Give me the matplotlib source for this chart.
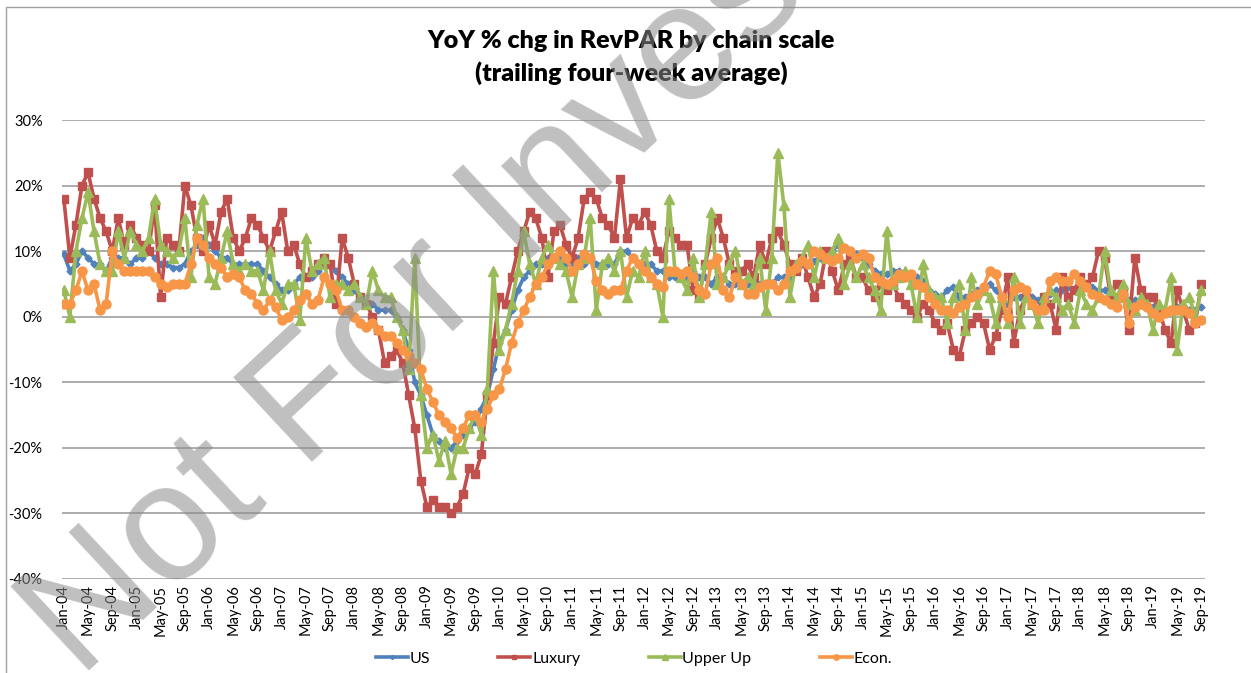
import matplotlib
matplotlib.use("Agg")
import matplotlib.pyplot as plt
from matplotlib.patches import Rectangle

# ---------------- data (monthly readings, Jan-04 .. Sep-19) ----------------
us = [
    9.5, 7, 8, 10, 9, 8, 8, 7, 9, 9, 9, 8,            # 2004
    9, 9, 10, 9, 8, 8, 7.5, 7.5, 8, 10, 11, 12,       # 2005
    11, 10, 9, 9, 8, 8, 8, 8, 8, 7, 6, 5,             # 2006
    4, 4, 5, 6, 6, 6, 7, 8, 8, 7, 6, 5,               # 2007
    4, 3, 2, 2, 1, 1, 1, 0, -2, -5, -10, -12,         # 2008
    -15, -18, -19, -20, -20, -19, -18, -17, -16, -14, -12, -8,  # 2009
    -4, -2, 1, 4, 6, 7, 8, 8, 9, 9, 9, 8,             # 2010
    8, 9, 8, 9, 8, 8, 8, 8, 10, 10, 9, 8,             # 2011
    8, 8, 7, 7, 6, 6, 6, 6, 7, 6, 6, 5,               # 2012
    6, 6, 5, 5, 5, 5, 5, 5, 5, 5, 6, 6,               # 2013
    6, 7, 8, 8, 8.5, 9, 9.5, 10, 11, 10.5, 10, 9.5,   # 2014
    9, 8, 7, 6.5, 6.5, 7, 7, 6.5, 6.5, 6, 5.5, 4,     # 2015
    3.5, 3, 4, 4.5, 3, 3, 3.5, 4, 4.5, 5, 4, 3,       # 2016
    2, 3, 3, 3.5, 3, 2.5, 2.5, 3.5, 4, 4, 4.5, 4,     # 2017
    4.5, 5, 4.5, 4, 4, 3.5, 3, 3, 2.5, 2.5, 2.5, 2,   # 2018
    1.5, 1.5, 1, 1, 1.5, 1.5, 1, 1, 1.5,              # 2019
]
luxury = [
    18, 9, 14, 20, 22, 18, 15, 13, 10, 15, 11, 14,    # 2004
    12, 11, 10, 17, 3, 12, 11, 10, 20, 17, 12, 10,    # 2005
    14, 11, 16, 18, 12, 10, 12, 15, 14, 12, 10, 13,   # 2006
    16, 10, 11, 8, 6, 7, 8, 9, 8, 2, 12, 9,           # 2007
    5, 3, 2, 0, -2, -7, -6, -5, -7, -12, -17, -25,    # 2008
    -29, -28, -29, -29, -30, -29, -27, -23, -24, -21, -12, -4,  # 2009
    3, 2, 6, 10, 13, 16, 15, 12, 6, 13, 14, 11,       # 2010
    9, 12, 18, 19, 18, 15, 14, 12, 21, 12, 15, 14,    # 2011
    16, 14, 10, 9, 13, 12, 11, 11, 4, 3, 8, 12,       # 2012
    15, 12, 8, 7, 7, 8, 6, 11, 8, 12, 13, 11,         # 2013
    8, 7, 9, 6, 3, 5, 10, 7, 4, 8, 9, 6,              # 2014
    6, 4, 3, 5, 4, 5, 3, 2, 1, 0, 2, 1,               # 2015
    -1, -2, -1, -5, -6, -2, -1, 0, -1, -5, -3, 1,     # 2016
    6, -4, 1, 3, 2, 1, 3, 2, -2, 6, 3, 4,             # 2017
    6, 5, 6, 10, 9, 3, 5, 4, -2, 9, 4, 3,             # 2018
    3, 1, -2, -4, 4, 1, -2, -1, 5,                    # 2019
]
upper_up = [
    4, 0, 10, 15, 19, 13, 8, 7, 7, 13, 9, 13,         # 2004
    11, 10, 12, 18, 11, 10, 9, 10, 15, 6, 14, 18,     # 2005
    6, 5, 9, 13, 8, 7, 8, 7, 7, 4, 10, 4,             # 2006
    2, 5, 5, -0.5, 12, 7, 8, 9, 3, 5, 5, 4,           # 2007
    5, 3, 2, 7, 4, 3, 3, 0, -2, -8, 9, -12,           # 2008
    -20, -18, -22, -19, -24, -20, -20, -17, -15, -18, -11, 7,   # 2009
    -5, -2, 2, 7, 13, 8, 5, 9, 11, 9, 8, 7,           # 2010
    3, 8, 9, 15, 1, 8, 9, 7, 10, 3, 7, 6,             # 2011
    10, 6, 5, 0, 18, 7, 6, 4, 9, 3, 8, 16,            # 2012
    5, 6, 8, 10, 5, 6, 5, 9, 1, 9, 25, 17,            # 2013
    3, 8, 9, 11, 6, 10, 9, 10, 12, 5, 8, 6,           # 2014
    8, 6, 4, 1, 13, 5, 6, 7, 5, 0, 8, 4,              # 2015
    3, 3, -1, 3, 5, -2, 6, 2, 4, 3, -1, 3,            # 2016
    -1, 6, -1, 3, 2, -1, 3, 4, 3, 1, 2, -1,           # 2017
    4, 2, 1, 3, 10, 4, 3, 5, 2, 1, 3, 2,              # 2018
    -2, 2, 1, 6, -5, 2, 3, 0, 4,                      # 2019
]
econ = [
    2, 2, 4, 7, 4, 5, 1, 2, 10, 8, 7, 7,              # 2004
    7, 7, 7, 6, 5, 4.5, 5, 5, 5, 8, 12, 11,           # 2005
    9, 8, 7.5, 6, 6.5, 6, 4, 3.5, 2, 1, 2.5, 1.5,     # 2006
    -0.5, 0, 1, 2.5, 3.5, 2, 2.5, 6, 5, 4, 1, 1,      # 2007
    0, -1, -1.5, -1, -2, -3, -3, -4, -5, -6, -7, -8,  # 2008
    -11, -13, -15, -16, -17, -18.5, -17, -15, -15, -16, -14, -12,  # 2009
    -11, -8, -4, -1, 1, 3, 5, 6, 8, 9, 10, 9,         # 2010
    7, 8, 9.5, 9, 5.5, 4, 3.5, 4, 4, 7, 9, 8,         # 2011
    7, 6, 5, 4.5, 7, 7, 6.5, 7, 6, 4, 3.5, 8,         # 2012
    9, 4, 3, 6, 5, 3.5, 3.5, 4.5, 5, 5, 4, 5,         # 2013
    7, 7.5, 8.5, 8, 10, 9.5, 9, 8.5, 9, 10.5, 10, 9,  # 2014
    9.5, 9, 6, 5.5, 5, 5.5, 6.5, 6, 6.5, 5, 4.5, 3,   # 2015
    2, 1, 1, 0.5, 1.5, 2, 3, 3.5, 4.5, 7, 6.5, 3,     # 2016
    0, 4, 4.5, 4, 2, 1, 1, 5.5, 6, 5.5, 5.5, 6.5,     # 2017
    5.5, 4.5, 3.5, 3, 2.5, 2, 1.5, 3.5, -1, 1.5, 2, 1.5,  # 2018
    0.5, 0, 0.5, 1, 1, 1, 0.5, -1, -0.5,              # 2019
]
series_names = ["US", "Luxury", "Upper Up", "Econ."]
month_abbr = ["Jan", "May", "Sep"]
years = list(range(2004, 2020))
y_ticks = [-40, -30, -20, -10, 0, 10, 20, 30]

# ---------------- figure ----------------
plt.rcParams['font.family'] = ['Lato', 'DejaVu Sans']
fig = plt.figure(figsize=(12.51, 6.73), dpi=100)
W, H = 1251, 673
ax = fig.add_axes([62 / W, 1 - 579 / H, (1205 - 62) / W, (579 - 120) / H])

colors = ["#4F81BD", "#C0504D", "#9BBB59", "#F79646"]
markers = ["D", "s", "^", "o"]
msizes = [3.5, 6.0, 6.5, 6.5]
data = [us, luxury, upper_up, econ]
for name, vals, c, m, ms in zip(series_names, data, colors, markers, msizes):
    x = list(range(len(vals)))
    ax.plot(x, vals, color=c, lw=2.6, marker=m, ms=ms, mec=c, mfc=c,
            label=name)

ax.set_ylim(-40, 30)
ax.set_xlim(-0.3, 188.6)
ax.set_yticks(y_ticks)
ax.set_yticklabels([f"{v}%" for v in y_ticks], fontsize=10.5)

labels, pos = [], []
i = 0
for yr in years:
    for mo in month_abbr:
        if i <= 188:
            labels.append(f"{mo}-{str(yr)[2:]}")
            pos.append(i)
        i += 4
ax.set_xticks(pos)
ax.set_xticklabels(labels, rotation=90, fontsize=10.5)
ax.tick_params(axis="both", length=0, pad=4)
ax.tick_params(axis="y", pad=14)

ax.grid(axis="y", color="#A6A6A6", lw=1.3)
ax.set_axisbelow(True)
for s in ax.spines.values():
    s.set_visible(False)

fig.text(631 / W, 1 - 41 / H, "YoY % chg in RevPAR by chain scale",
         ha="center", va="center", fontsize=18, fontweight="heavy")
fig.text(631 / W, 1 - 73 / H, "(trailing four-week average)",
         ha="center", va="center", fontsize=18, fontweight="heavy")

leg = fig.legend(loc="center", bbox_to_anchor=(634 / W, 1 - 659 / H), ncol=4,
                 frameon=False, fontsize=11.5, handlelength=2.0,
                 columnspacing=4.3, handletextpad=0.1, markerscale=0.6)

# chart border
fig.patches.append(Rectangle((6 / W, -0.1), 1.2, 1 - 7 / H + 0.1,
                             transform=fig.transFigure, fill=False,
                             ec="#A0A0A0", lw=1.0))

# watermark
fig.text(80 / W, 1 - 680 / H, "Not For Investment", rotation=43,
         rotation_mode="anchor", ha="left", va="baseline",
         fontsize=120, family="Liberation Sans", color="#8C8C8C", alpha=0.55)

fig.savefig("out.png", dpi=100)
